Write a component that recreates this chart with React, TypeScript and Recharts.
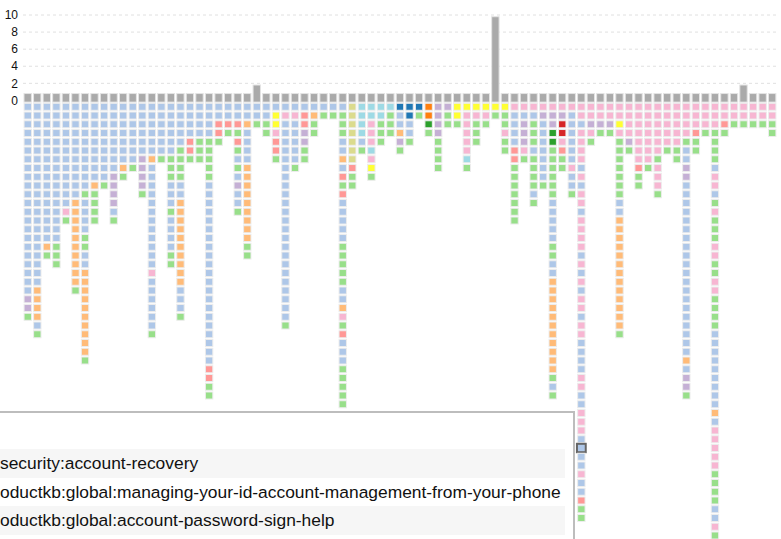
import { ComposedChart, Bar, Scatter, XAxis, YAxis, CartesianGrid } from "recharts";

// colour codes used in the column strings
const palette: Record<string, string> = {
  B: "#aec7e8",
  G: "#98df8a",
  O: "#ffbb78",
  P: "#f7b6d2",
  V: "#c5b0d5",
  R: "#ff9896",
  Y: "#ffff33",
  D: "#1f77b4",
  F: "#ff7f0e",
  E: "#2ca02c",
  X: "#d62728",
  K: "#dbdb8d",
  C: "#9edae5",
};

// one string per column, read top to bottom
const columns = [
  "BBBBBBBBBBBBBBBBBBBBBBVVG",
  "BBBBBBBBBBBBBBBBBBBBBOOOOBG",
  "BBBBBBBBBBBBBBBBOG",
  "BBBBBBBBBBBBBBBBGGG",
  "BBBBBBBBBBBBPG",
  "BBBBBBBBBBBOOOOOOOOOOG",
  "BBBBBBBBBBGBBBBGGBBOOOOOOOOOOG",
  "BBBBBBBBBOGGGG",
  "BBBBBBBBBG",
  "BBBBBBBBVVVVBG",
  "BBBBBBBOG",
  "BBBBBBBG",
  "BBBBBBVVVVG",
  "BBBBBBOBBBBBBBBBBBBPBBBBBBG",
  "BBBBBBG",
  "BBBBBBGGGBBBGBBBBGG",
  "BBBBBGGGGBBOOOOOOOOOOBBBG",
  "BBBBRRG",
  "BBBBGGG",
  "BBBBGGGGGBBBBBBBBBBBBBBBBBBBBBRRGG",
  "BBRRG",
  "BBRG",
  "BBRGRGBGBVBBG",
  "BBOBBBBOOOOOOOOOGG",
  "BBG",
  "BBGG",
  "BYYPRRG",
  "BPBBBBBBBBBBBBBBBBBBBBBBBG",
  "BPBBBBBG",
  "BRRVVGG",
  "BOGG",
  "BG",
  "BG",
  "BGGGBBOBRGRBBBBBGGGGGBBOPGRBBBGGGGG",
  "KKKKKKKRGG",
  "CCCCBG",
  "CCPPPCPYG",
  "CCGGG",
  "CGGG",
  "DBBOVG",
  "DDBBG",
  "DG",
  "FFEG",
  "VVVVGGGG",
  "VGG",
  "YYG",
  "YPPPPPCG",
  "YPGGG",
  "YPG",
  "YG",
  "YGGPGG",
  "PBBBBRRGGGGGGG",
  "PBVVVPG",
  "PBGGGBGGGGBG",
  "PVBBBBBBBG",
  "PVVEEGGGGGGBBBBBGGBBOOOOOOOOOOOGBG",
  "PVXXPRGG",
  "PBBBBBBPBBG",
  "PPBPPPPBPBPPBPPPPBPBPBPPBPPBBBBPPBBPPPBBBBPBBRGG",
  "PPVPG",
  "PPVG",
  "PPVG",
  "PPYPGGGGGGGBBOOOOOOOOOOOOOG",
  "PPPPVG",
  "PPPPPPPRGG",
  "PPPPPPPG",
  "PPPPPPGPPPG",
  "PPPPPG",
  "PPPPPGG",
  "PPPPGBBVVBBBBBBBBBBBBBBBBBBBBOBVVG",
  "PPPRGG",
  "PPPG",
  "PPPGGGGBPPBGPGGGPPGGPPGGGGBBBBBBBBBOBPPPPPGGGGBBPG",
  "PPRG",
  "PPG",
  "PPG",
  "PPG",
  "PPG",
  "PPGG",
];

// grey bars above the zero line
const counts = [
  1, 1, 1, 1, 1, 1, 1, 1, 1, 1, 1, 1, 1, 1, 1, 1, 1, 1, 1, 1,
  1, 1, 1, 1, 2, 1, 1, 1, 1, 1, 1, 1, 1, 1, 1, 1, 1, 1, 1, 1,
  1, 1, 1, 1, 1, 1, 1, 1, 1, 10, 1, 1, 1, 1, 1, 1, 1, 1, 1, 1,
  1, 1, 1, 1, 1, 1, 1, 1, 1, 1, 1, 1, 1, 1, 1, 2, 1, 1, 1,
];

const yTicks = [0, 2, 4, 6, 8, 10];
const gridValues = [2, 4, 6, 8, 10];

// selected cell (column index, row number)
const selected = { col: 58, row: 40 };

// the visible part of each tooltip line
const tooltipRows = [
  "security:account-recovery",
  "oductkb:global:managing-your-id-account-management-from-your-phone",
  "oductkb:global:account-password-sign-help",
];

const barData = counts.map((count, i) => ({ col: i, count }));

const cells = columns.flatMap((s, i) =>
  s.split("").map((code, r) => ({
    col: i,
    row: -(r + 1),
    color: palette[code],
    hl: i === selected.col && r + 1 === selected.row,
  }))
);

const GreyBar = (p: any) => {
  if (!p.height) return null;
  return (
    <rect x={p.x} y={p.y + 1.7} width={p.width} height={p.height} fill="#aaaaaa" stroke="#e4e4e4" strokeWidth={1} />
  );
};

const Square = (p: any) => {
  const { cx, cy, payload } = p;
  if (cx == null || cy == null) return null;
  if (payload.hl) {
    return <rect x={cx - 4.4} y={cy - 4.2} width={8.8} height={8.4} fill={payload.color} stroke="#666" strokeWidth={2} />;
  }
  return <rect x={cx - 3.7} y={cy - 3.5} width={7.4} height={7} fill={payload.color} stroke="#ececec" strokeWidth={1} />;
};

export default function App() {
  return (
    <div
      style={{
        position: "absolute",
        left: 0,
        top: 0,
        width: 781,
        height: 539,
        overflow: "hidden",
        background: "#fff",
        fontFamily: "'Liberation Sans', Arial, sans-serif",
      }}
    >
      <ComposedChart width={781} height={539} data={barData} margin={{ top: 15, right: 4, bottom: 0, left: 0 }}>
        <CartesianGrid
          yAxisId="bars"
          vertical={false}
          horizontalValues={gridValues}
          stroke="#e0e0e0"
          strokeDasharray="3 3"
        />
        <XAxis dataKey="col" type="category" hide allowDuplicatedCategory={false} />
        <YAxis
          yAxisId="bars"
          width={23}
          domain={[-51.36, 10]}
          ticks={yTicks}
          interval={0}
          allowDataOverflow
          tickLine={false}
          axisLine={false}
          tickSize={3}
          tickMargin={2}
          tick={{ fontSize: 12, fill: "#111" }}
        />
        <YAxis yAxisId="rows" dataKey="row" type="number" hide domain={[-50.4, 9.49]} allowDataOverflow />
        <Bar yAxisId="bars" dataKey="count" barSize={7.4} shape={GreyBar} isAnimationActive={false} />
        <Scatter yAxisId="rows" data={cells} dataKey="row" shape={Square} isAnimationActive={false} />
      </ComposedChart>

      <div
        style={{
          position: "absolute",
          left: -10,
          top: 411,
          width: 585,
          height: 160,
          boxSizing: "border-box",
          border: "2px solid #bdbdbd",
          background: "#fff",
        }}
      />
      {tooltipRows.map((text, i) => (
        <div
          key={i}
          style={{
            position: "absolute",
            left: 0,
            top: 449 + i * 28.7,
            width: 565,
            height: 28.7,
            lineHeight: "28.7px",
            background: i % 2 === 0 ? "#f6f6f6" : "#fff",
            fontSize: 17.4,
            color: "#111",
            whiteSpace: "nowrap",
          }}
        >
          {text}
        </div>
      ))}
    </div>
  );
}
